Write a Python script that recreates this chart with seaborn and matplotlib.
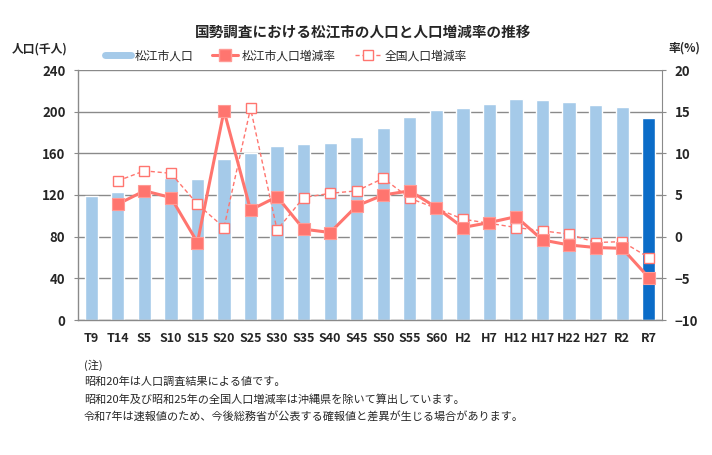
import numpy as np
import pandas as pd
import matplotlib
matplotlib.use("Agg")
import matplotlib.pyplot as plt
from matplotlib.lines import Line2D
import seaborn as sns

# ---------------- data ----------------
categories = ["T9", "T14", "S5", "S10", "S15", "S20", "S25", "S30", "S35", "S40", "S45",
              "S50", "S55", "S60", "H2", "H7", "H12", "H17", "H22", "H27", "R2", "R7"]
population = [119.3, 123.2, 129.6, 136.0, 135.0, 154.9, 160.3, 167.2, 169.0, 170.0, 175.7,
              184.3, 194.9, 201.6, 203.5, 207.7, 212.2, 211.2, 209.3, 206.4, 204.5, 193.9]
matsue_rate = [np.nan, 3.9, 5.5, 4.7, -0.7, 15.1, 3.2, 4.8, 0.9, 0.5, 3.7,
               5.0, 5.5, 3.5, 1.1, 1.7, 2.4, -0.4, -1.0, -1.3, -1.4, -4.9]
national_rate = [np.nan, 6.7, 7.9, 7.6, 3.9, 1.1, 15.4, 0.8, 4.7, 5.2, 5.5,
                 7.0, 4.6, 3.4, 2.1, 1.6, 1.1, 0.7, 0.3, -0.7, -0.6, -2.5]
left_ticks = [0, 40, 80, 120, 160, 200, 240]
right_ticks = [-10, -5, 0, 5, 10, 15, 20]

title = "国勢調査における松江市の人口と人口増減率の推移"
left_label = "人口(千人)"
right_label = "率(%)"
legend_labels = ["松江市人口", "松江市人口増減率", "全国人口増減率"]
notes = ["(注)",
         "昭和20年は人口調査結果による値です。",
         "昭和20年及び昭和25年の全国人口増減率は沖縄県を除いて算出しています。",
         "令和7年は速報値のため、今後総務省が公表する確報値と差異が生じる場合があります。"]

# ---------------- style ----------------
sns.set_style("white")
plt.rcParams["font.family"] = ["Noto Sans CJK JP", "DejaVu Sans"]

LIGHT = "#A5CAE9"
DARK = "#0B6CC8"
RED = "#FF756F"
GRID = "#8A8A8A"

df = pd.DataFrame({"cat": categories, "pop": population,
                   "pos": np.arange(len(categories)),
                   "matsue": matsue_rate, "national": national_rate})
bar_colors = [LIGHT] * (len(categories) - 1) + [DARK]

fig = plt.figure(figsize=(7.12, 4.55), dpi=100)
ax = fig.add_axes([78 / 712, 1 - 320 / 455, (662 - 78) / 712, 250 / 455])

sns.barplot(data=df, x="cat", y="pop", hue="cat", palette=bar_colors, width=0.5,
            saturation=1, legend=False, ax=ax, order=categories, hue_order=categories)
ax.set_xlim(-0.5, len(categories) - 0.5)
ax.set_ylim(0, 240)
ax.set_yticks(left_ticks)
ax.set_xlabel("")
ax.set_ylabel("")
ax.set_axisbelow(True)
ax.yaxis.grid(True, color=GRID, lw=1)
for s in ["top", "right"]:
    ax.spines[s].set_visible(False)
for s in ["left", "bottom"]:
    ax.spines[s].set_color(GRID)
    ax.spines[s].set_linewidth(1)
ax.tick_params(axis="x", length=0, pad=9, labelsize=9)
ax.tick_params(axis="y", length=3, color=GRID, pad=6, labelsize=9.5)
for lab in ax.get_xticklabels() + ax.get_yticklabels():
    lab.set_fontweight("bold")

ax2 = ax.twinx()
sns.lineplot(data=df, x="pos", y="national", ax=ax2, color=RED, lw=1.0,
             linestyle=(0, (3, 2)), marker="s", markersize=7.5,
             markerfacecolor="white", markeredgecolor=RED, markeredgewidth=1.0)
sns.lineplot(data=df, x="pos", y="matsue", ax=ax2, color=RED, lw=2.2,
             marker="s", markersize=8, markerfacecolor=RED,
             markeredgecolor="#FF9A95", markeredgewidth=0.8)
ax2.set_ylim(-10, 20)
ax2.set_yticks(right_ticks)
ax2.set_xlim(-0.5, len(categories) - 0.5)
ax2.set_ylabel("")
ax2.set_xlabel("")
for s in ["top", "left", "bottom"]:
    ax2.spines[s].set_visible(False)
ax2.spines["right"].set_color(GRID)
ax2.tick_params(axis="y", length=3, color=GRID, pad=6, labelsize=9.5)
for lab in ax2.get_yticklabels():
    lab.set_fontweight("bold")

# texts
fig.text(363 / 712, 1 - 31 / 455, title, ha="center", va="center",
         fontsize=10.5, fontweight="bold")
fig.text(40 / 712, 1 - 49 / 455, left_label, ha="center", va="center",
         fontsize=8.5, fontweight="bold")
fig.text(684 / 712, 1 - 48 / 455, right_label, ha="center", va="center",
         fontsize=8.5, fontweight="bold")

handles = [
    Line2D([], [], color=LIGHT, lw=5),
    Line2D([], [], color=RED, lw=2.2, marker="s", markersize=8,
           markerfacecolor=RED, markeredgecolor="#FF9A95"),
    Line2D([], [], color=RED, lw=1.0, linestyle=(0, (3, 2)), marker="s",
           markersize=7.5, markerfacecolor="white", markeredgecolor=RED),
]
fig.legend(handles, legend_labels, loc="center", ncol=3,
           bbox_to_anchor=(286 / 712, 1 - 56 / 455), frameon=False,
           fontsize=8.5, handlelength=2.2, columnspacing=1.6, handletextpad=0.3)

note_y = [365, 382, 400, 417]
for txt, yy in zip(notes, note_y):
    fig.text(84 / 712, 1 - yy / 455, txt, ha="left", va="center", fontsize=8)

fig.savefig("out.png", dpi=100)
